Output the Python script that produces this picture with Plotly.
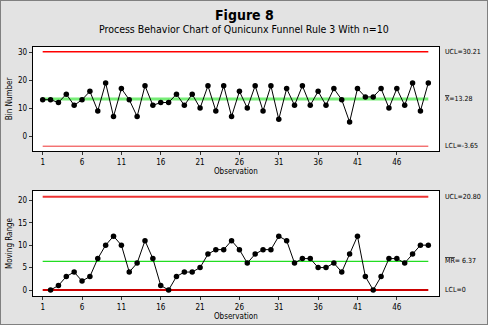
import plotly.graph_objects as go

obs = list(range(1, 51))
bin_number = [13, 13, 12, 15, 11, 13, 16, 9, 19, 7,
              17, 13, 7, 18, 11, 12, 12, 15, 11, 15,
              10, 18, 9, 18, 7, 16, 10, 18, 9, 18,
              6, 17, 11, 18, 11, 16, 11, 17, 13, 5,
              17, 14, 14, 17, 10, 17, 11, 19, 9, 19]
mr_obs = list(range(2, 51))
moving_range = [0, 1, 3, 4, 2, 3, 7, 10, 12,
                10, 4, 6, 11, 7, 1, 0, 3, 4, 4,
                5, 8, 9, 9, 11, 9, 6, 8, 9, 9,
                12, 11, 6, 7, 7, 5, 5, 6, 4, 8,
                12, 3, 0, 3, 7, 7, 6, 8, 10, 10]
x_ticks = [1, 6, 11, 16, 21, 26, 31, 36, 41, 46]
i_limits = {"UCL": 30.21, "X": 13.28, "LCL": -3.65}
mr_limits = {"UCL": 20.80, "MR": 6.37, "LCL": 0}

FONT = "DejaVu Sans Condensed, DejaVu Sans, sans-serif"
TFONT = "DejaVu Sans, sans-serif"
fig = go.Figure()

def hline(y, color, width, xa, ya):
    fig.add_trace(go.Scatter(x=[obs[0], obs[-1]], y=[y, y], mode="lines",
                             line=dict(color=color, width=width),
                             xaxis=xa, yaxis=ya, hoverinfo="skip", showlegend=False))

hline(i_limits["UCL"], "#ff0000", 1.5, "x", "y")
hline(i_limits["X"], "#77ee77", 3, "x", "y")
hline(i_limits["LCL"], "#ee3333", 1, "x", "y")
hline(mr_limits["UCL"], "#ee3333", 2, "x2", "y2")
hline(mr_limits["MR"], "#22dd22", 1.3, "x2", "y2")
hline(mr_limits["LCL"], "#cc0000", 2, "x2", "y2")

fig.add_trace(go.Scatter(x=obs, y=bin_number, mode="lines+markers",
                         line=dict(color="black", width=1),
                         marker=dict(color="black", size=5.5),
                         xaxis="x", yaxis="y", showlegend=False))
fig.add_trace(go.Scatter(x=mr_obs, y=moving_range, mode="lines+markers",
                         line=dict(color="black", width=1),
                         marker=dict(color="black", size=5.5),
                         xaxis="x2", yaxis="y2", showlegend=False))

xdom = [0.067, 0.8996]
axis_common = dict(showgrid=False, zeroline=False, showline=True, linecolor="black",
                   linewidth=1, mirror=True, ticks="outside", ticklen=3,
                   tickcolor="#333", tickfont=dict(family=FONT, size=8, color="black"))

fig.update_layout(
    width=488, height=325,
    margin=dict(l=0, r=0, t=0, b=0),
    paper_bgcolor="#e3e3e3", plot_bgcolor="white",
    xaxis=dict(domain=xdom, range=[-0.27, 51.36], tickvals=x_ticks, anchor="y",
               title=dict(text="Observation", font=dict(family=FONT, size=8, color="black"), standoff=2),
               **axis_common),
    yaxis=dict(domain=[0.5354, 0.8563], range=[-5.37, 32.0], tickvals=[0, 10, 20, 30], anchor="x",
               title=dict(text="Bin Number", font=dict(family=FONT, size=8, color="black"), standoff=4),
               **axis_common),
    xaxis2=dict(domain=xdom, range=[-0.27, 51.36], tickvals=x_ticks, anchor="y2",
                title=dict(text="Observation", font=dict(family=FONT, size=8, color="black"), standoff=2),
                **axis_common),
    yaxis2=dict(domain=[0.0892, 0.4123], range=[-1.34, 22.07], tickvals=[0, 5, 10, 15, 20], anchor="x2",
                title=dict(text="Moving Range", font=dict(family=FONT, size=8, color="black"), standoff=4),
                **axis_common),
    showlegend=False,
)

anns = [
    dict(text="<b>Figure 8</b>", x=0.5, y=15, size=14),
    dict(text="Process Behavior Chart of Qunicunx Funnel Rule 3 With n=10", x=0.5, y=29, size=10.5),
]
for a in anns:
    fig.add_annotation(text=a["text"], xref="paper", yref="paper", x=a["x"], y=1 - a["y"] / 325,
                       showarrow=False, xanchor="center", yanchor="middle",
                       font=dict(family=FONT, size=a["size"], color="black"))

right_labels = [
    ("UCL=30.21", i_limits["UCL"], "y"),
    ("<span style='text-decoration:overline'>X</span>=13.28", i_limits["X"], "y"),
    ("LCL=-3.65", i_limits["LCL"], "y"),
    ("UCL=20.80", mr_limits["UCL"], "y2"),
    ("<span style='text-decoration:overline'>MR</span>= 6.37", mr_limits["MR"], "y2"),
    ("LCL=0", mr_limits["LCL"], "y2"),
]
for txt, yv, yr in right_labels:
    fig.add_annotation(text=txt, xref="paper", yref=yr, x=0.907, y=yv, showarrow=False,
                       xanchor="left", yanchor="middle",
                       font=dict(family=FONT, size=7, color="black"))

fig.add_shape(type="rect", xref="paper", yref="paper", x0=0, y0=0, x1=1, y1=1,
              line=dict(color="#808080", width=2), layer="above")

fig.write_html("out.html")
